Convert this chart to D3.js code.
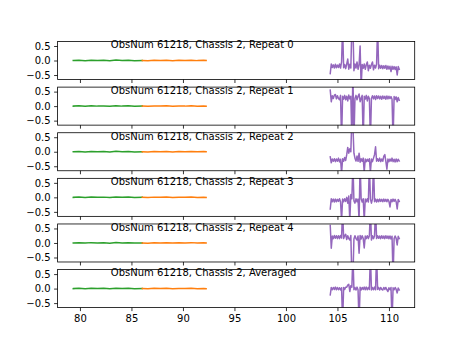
<!DOCTYPE html>
<html><head><meta charset="utf-8">
<script src="https://cdn.jsdelivr.net/npm/d3@7"></script>
<style>
html,body{margin:0;padding:0;background:#fff;}
svg{display:block;font-family:"DejaVu Sans",sans-serif;}
</style></head>
<body>
<svg id="chart" width="461" height="346"></svg>
<script>
// ---------------- data ----------------
const panelTitles = [
  "ObsNum 61218, Chassis 2, Repeat 0",
  "ObsNum 61218, Chassis 2, Repeat 1",
  "ObsNum 61218, Chassis 2, Repeat 2",
  "ObsNum 61218, Chassis 2, Repeat 3",
  "ObsNum 61218, Chassis 2, Repeat 4",
  "ObsNum 61218, Chassis 2, Averaged"
];
const xTicks = [80, 85, 90, 95, 100, 105, 110];
const yTicks = [-0.5, 0.0, 0.5];

const greenX = [79.35, 79.9, 80.5, 81.1, 81.7, 82.3, 82.9, 83.5, 84.1, 84.7, 85.3, 86.05];
const greenY = [0.0, 0.01, -0.005, 0.012, 0.0, 0.008, -0.008, 0.015, 0.0, 0.01, -0.005, 0.0];
const orangeX = [86.05, 86.6, 87.2, 87.8, 88.4, 89.0, 89.6, 90.2, 90.8, 91.4, 92.0, 92.25];
const orangeY = [0.0, -0.006, 0.008, 0.0, 0.01, -0.005, 0.006, 0.0, 0.012, -0.004, 0.005, 0.0];

// purple channels: 104.3 .. 111.0 in 0.1 steps
const purpleX = d3.range(68).map(i => +(104.3 + i * 0.1).toFixed(1));
const purpleRepeat0 = [-0.45,-0.12,-0.24,-0.15,-0.26,-0.13,-0.25,-0.16,-0.24,-0.12,-0.26,-0.05,1.2,-0.25,-0.14,-0.28,-0.12,0.05,-0.3,-0.13,-0.26,1.2,1.2,-0.35,-0.12,-0.26,-0.05,-0.3,-0.15,0.5,-0.9,-0.14,-0.27,-0.12,-0.3,-0.15,-0.05,-0.35,-0.16,-0.27,-0.14,-0.05,-0.32,-0.16,-0.26,-0.12,1.2,-0.28,-0.16,-0.27,-0.17,-0.28,-0.18,-0.27,-0.17,-0.3,-0.19,-0.29,-0.2,-0.38,-0.2,-0.3,-0.21,-0.31,-0.22,-0.5,-0.21,-0.3];
const purpleRepeat1 = [0.55,0.15,0.36,0.26,0.38,0.4,0.25,0.36,0.26,0.22,0.37,-1.2,0.34,0.24,0.37,0.22,0.34,0.18,0.38,0.25,0.34,-1.2,1.2,-1.2,0.26,0.37,0.22,0.34,0.42,0.15,0.27,0.37,-1.2,0.34,0.24,0.37,0.18,0.34,0.26,-1.2,0.26,0.36,0.25,0.35,0.23,0.36,0.26,0.35,0.25,0.34,0.24,0.35,0.26,0.34,0.24,0.35,0.25,0.34,0.26,0.33,0.24,-1.2,0.33,0.23,0.32,0.15,0.3,0.2];
const purpleRepeat2 = [-0.18,-0.38,-0.25,-0.33,-0.24,-0.34,-0.25,-0.33,-0.22,-0.35,-0.26,-0.75,-0.24,-0.33,-0.2,-0.3,-0.1,0.15,-0.05,0.1,0.0,1.2,0.9,-0.05,-0.22,-0.32,-0.15,-0.33,-0.05,-0.36,-0.24,-0.33,-0.22,-0.7,-0.25,-0.34,-0.26,-0.33,-0.24,-0.7,-0.25,-0.34,-0.22,-0.1,0.17,-0.33,-0.24,-0.33,-0.22,-0.34,-0.25,-0.33,-0.15,-0.1,-0.33,-0.6,-0.25,-0.34,-0.25,-0.33,-0.22,-0.34,-0.26,-0.35,-0.25,-0.34,-0.26,-0.32];
const purpleRepeat3 = [-0.4,-0.05,-0.15,-0.06,-0.16,-0.06,-0.15,-0.07,-0.14,-0.05,-0.15,-0.8,-0.06,-0.15,-0.05,-0.14,0.0,-0.2,0.05,-0.8,0.1,-0.05,1.2,-0.12,-0.2,-0.05,-0.15,-0.06,-0.8,1.2,-0.06,-0.16,-0.05,-0.8,-0.06,-0.15,-0.05,-0.16,1.2,-0.06,-0.2,-0.05,1.2,-0.15,-0.06,-0.16,-0.07,-0.15,-0.06,-0.14,-0.07,-0.15,-0.06,-0.14,-0.07,-0.15,-0.07,-0.14,-0.33,-0.07,-0.15,-0.06,-0.14,-0.07,-0.15,-0.4,-0.07,-0.14];
const purpleRepeat4 = [0.6,-0.18,0.24,0.15,0.26,0.16,0.25,0.15,0.25,0.15,0.26,0.17,1.2,0.15,0.25,0.3,0.12,0.25,0.15,0.1,0.26,-1.2,-1.2,0.14,0.25,0.15,0.1,0.24,-0.35,0.26,0.14,0.25,0.16,-0.17,0.24,0.15,0.25,0.15,0.25,1.2,0.1,0.25,0.15,0.24,1.2,0.15,0.25,0.16,0.24,0.15,0.25,0.16,0.24,0.15,0.25,0.16,0.24,0.15,0.24,0.14,0.23,-1.2,0.15,0.24,0.16,-0.07,0.23,0.15];
const purpleAveraged = [-0.22,0.04,-0.04,0.04,-0.03,0.05,-0.04,0.04,-0.04,0.03,-0.05,0.03,-1.2,0.04,-0.03,0.05,0.05,0.12,0.15,-0.1,0.1,0.05,1.2,-0.04,0.04,-0.05,0.05,-0.04,-1.2,0.05,-0.05,0.04,-0.03,0.05,-0.04,0.05,-0.04,0.04,-0.03,1.2,-0.05,0.04,-0.04,0.05,-0.04,1.2,-0.03,0.04,-0.05,0.04,-0.03,-0.05,0.04,-0.03,0.04,-0.04,-0.1,0.03,-0.04,0.04,-1.2,0.03,-0.04,0.04,-0.03,-0.15,0.02,-0.05];
const purpleSeries = [purpleRepeat0, purpleRepeat1, purpleRepeat2, purpleRepeat3, purpleRepeat4, purpleAveraged];

// ---------------- layout ----------------
const mLeft = 57.6, mRight = 414.7, mTop = 41.5, mBottom = 307.6;
const nP = 6;
const ph = (mBottom - mTop) / (nP + (nP - 1) * 0.2);
const gap = ph * 0.2;
const colors = {green: "#2ca02c", orange: "#ff7f0e", purple: "#9467bd"};

const svg = d3.select("#chart");
const x = d3.scaleLinear().domain([77.83, 112.5]).range([mLeft, mRight]);

panelTitles.forEach((title, i) => {
  const y0 = mTop + i * (ph + gap);
  const y = d3.scaleLinear().domain([-0.655, 0.655]).range([y0 + ph, y0]);
  const g = svg.append("g");
  const clipId = "clip" + i;
  svg.append("clipPath").attr("id", clipId)
    .append("rect").attr("x", mLeft).attr("y", y0).attr("width", mRight - mLeft).attr("height", ph);

  const line = d3.line().x(d => x(d[0])).y(d => y(d[1]));
  const plot = g.append("g").attr("clip-path", `url(#${clipId})`);
  const addLine = (xs, ys, c) => plot.append("path")
    .attr("d", line(xs.map((v, k) => [v, ys[k]])))
    .attr("fill", "none").attr("stroke", c).attr("stroke-width", 1.5)
    .attr("stroke-linejoin", "round").attr("stroke-linecap", "square");
  addLine(greenX, greenY, colors.green);
  addLine(orangeX, orangeY, colors.orange);
  addLine(purpleX, purpleSeries[i], colors.purple);

  // axes
  const yAxis = d3.axisLeft(y).tickValues(yTicks).tickSize(3.5).tickPadding(3.5)
    .tickFormat(d => d3.format(".1f")(d).replace("-", "\u2212"));
  const ya = g.append("g").attr("transform", `translate(${mLeft},0)`).call(yAxis);
  const xAxis = d3.axisBottom(x).tickValues(xTicks).tickSize(3.5).tickPadding(3.5)
    .tickFormat(i === nP - 1 ? d3.format("d") : () => "");
  const xa = g.append("g").attr("transform", `translate(0,${y0 + ph})`).call(xAxis);
  [ya, xa].forEach(a => {
    a.select(".domain").remove();
    a.selectAll(".tick line").attr("stroke", "#000").attr("stroke-width", 0.8);
    a.selectAll(".tick text").attr("font-size", 10).attr("fill", "#000")
      .attr("font-family", "DejaVu Sans, sans-serif");
  });

  // frame
  g.append("rect").attr("x", mLeft).attr("y", y0).attr("width", mRight - mLeft).attr("height", ph)
    .attr("fill", "none").attr("stroke", "#000").attr("stroke-width", 0.8);

  // title text
  g.append("text").attr("x", x(83.0)).attr("y", y0 + 6.8)
    .attr("font-size", 10).attr("fill", "#000").text(title);
});
</script>
</body></html>
